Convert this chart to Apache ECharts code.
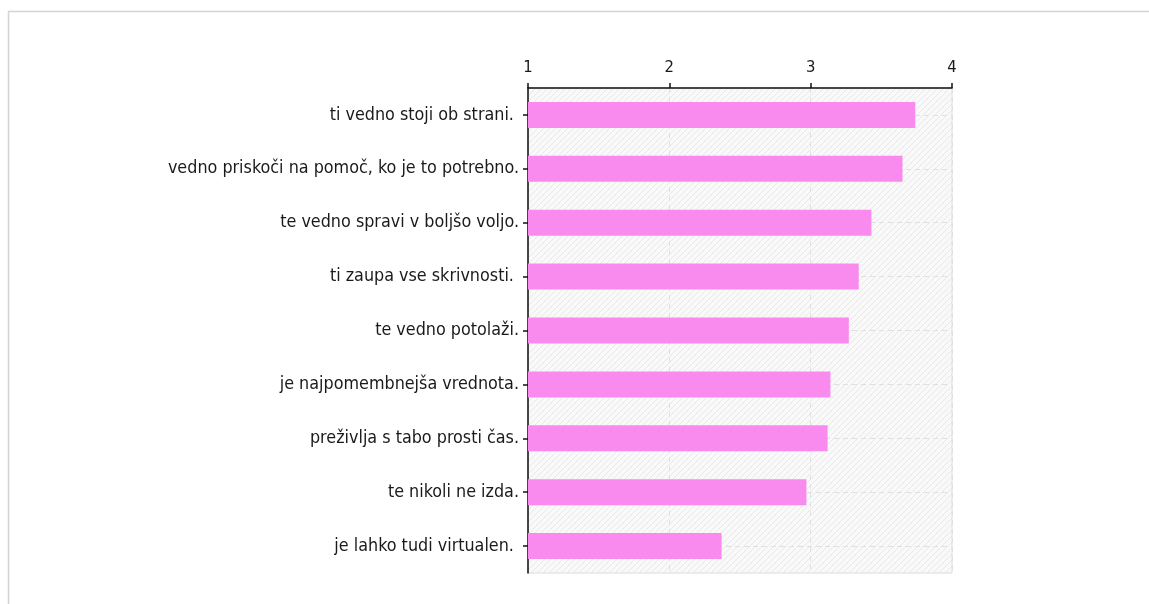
<!DOCTYPE html>
<html>
<head>
<meta charset="utf-8">
<script src="https://cdn.jsdelivr.net/npm/echarts@6/dist/echarts.min.js"></script>
<style>
  html, body { margin: 0; padding: 0; background: #fff; }
  #main { width: 1149px; height: 604px; }
</style>
</head>
<body>
<div id="main"></div>
<script>
const categories = [
  'ti vedno stoji ob strani. ',
  'vedno priskoči na pomoč, ko je to potrebno.',
  'te vedno spravi v boljšo voljo.',
  'ti zaupa vse skrivnosti. ',
  'te vedno potolaži.',
  'je najpomembnejša vrednota.',
  'preživlja s tabo prosti čas.',
  'te nikoli ne izda.',
  'je lahko tudi virtualen. '
];
const values = [3.74, 3.65, 3.43, 3.34, 3.27, 3.14, 3.12, 2.97, 2.37];
const axisMin = 1;
const axisMax = 4;

// faint diagonal hatching for the plot background
const hatch = document.createElement('canvas');
hatch.width = 6; hatch.height = 6;
const hc = hatch.getContext('2d');
hc.fillStyle = '#f9f9f9';
hc.fillRect(0, 0, 6, 6);
hc.strokeStyle = '#e8e8e8';
hc.lineWidth = 1;
hc.beginPath();
hc.moveTo(0, 6); hc.lineTo(6, 0);
hc.moveTo(-3, 3); hc.lineTo(3, -3);
hc.moveTo(3, 9); hc.lineTo(9, 3);
hc.stroke();

const font = '"DejaVu Sans Condensed", "DejaVu Sans", sans-serif';

const myChart = echarts.init(document.getElementById('main'));

const option = {
  animation: false,
  textStyle: { fontFamily: font },
  graphic: [{
    type: 'rect',
    shape: { x: 8.5, y: 11.5, width: 2000, height: 2000 },
    style: { fill: 'none', stroke: '#d4d4d4', lineWidth: 1.5 },
    silent: true
  }],
  grid: {
    left: 528, right: 197, top: 88, bottom: 31,
    show: true,
    backgroundColor: { image: hatch, repeat: 'repeat' },
    borderColor: '#dcdcdc',
    borderWidth: 1
  },
  xAxis: {
    type: 'value',
    position: 'top',
    min: axisMin,
    max: axisMax,
    interval: 1,
    axisLine: { show: true, lineStyle: { color: '#111', width: 1.5 } },
    axisTick: { show: true, length: 5, lineStyle: { color: '#111', width: 1.5 } },
    axisLabel: { color: '#1a1a1a', fontSize: 16.5, margin: 12, fontFamily: font },
    splitLine: { show: true, lineStyle: { color: '#e0e0e0', type: [5, 4] } }
  },
  yAxis: {
    type: 'category',
    inverse: true,
    data: categories,
    axisLine: { show: true, lineStyle: { color: '#111', width: 1.5 } },
    axisTick: { show: true, alignWithLabel: true, length: 5, lineStyle: { color: '#111', width: 1.5 } },
    axisLabel: { color: '#1a1a1a', fontSize: 17.8, margin: 9, fontFamily: font },
    splitLine: { show: true, alignWithLabel: true, lineStyle: { color: '#e0e0e0', type: [5, 4] } }
  },
  series: [{
    type: 'bar',
    data: values,
    barWidth: 26,
    itemStyle: { color: '#f98bef' }
  }]
};

myChart.setOption(option);
</script>
</body>
</html>
